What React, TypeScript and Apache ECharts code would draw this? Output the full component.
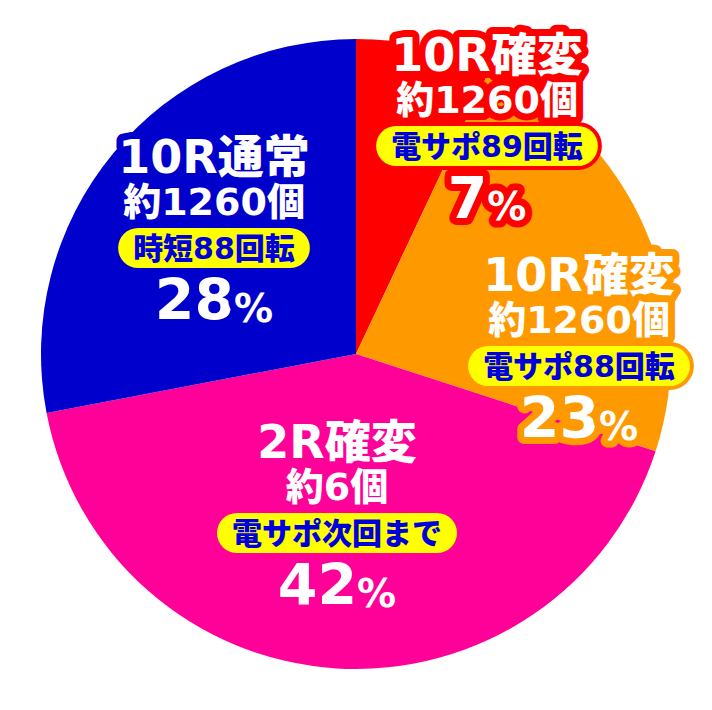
import React, { useEffect, useRef } from 'react';
import * as echarts from 'echarts';

const categories = ['10R確変', '10R確変', '2R確変', '10R通常'];
const values = [7, 23, 42, 28];
const payouts = ['約1260個', '約1260個', '約6個', '約1260個'];
const notes = ['電サポ89回転', '電サポ88回転', '電サポ次回まで', '時短88回転'];
const colors = ['#ff0000', '#ff9900', '#ff0099', '#0000cc'];

// label block centres (px), one per slice
const labelPos = [
  [487, 129],
  [579, 349],
  [337, 516],
  [214, 231]
];

const FONT = '"DejaVu Sans", "Noto Sans CJK JP", sans-serif';

const makeRich = (color: string) => {
  const outline = { color: '#fff', textBorderColor: color, textBorderWidth: 14, fontFamily: FONT, fontWeight: 900 };
  return {
    t: { ...outline, fontSize: 46, lineHeight: 46 },
    s: { ...outline, fontSize: 38, lineHeight: 44 },
    b: {
      color: '#0000dd',
      fontFamily: FONT,
      fontWeight: 900,
      fontSize: 30,
      height: 30,
      lineHeight: 48,
      backgroundColor: '#ffff00',
      borderColor: color,
      borderWidth: 4,
      borderRadius: 22,
      padding: [5, 15],
      textBorderWidth: 0
    },
    p: { ...outline, fontSize: 57, lineHeight: 56 },
    q: { ...outline, fontSize: 39, lineHeight: 56, verticalAlign: 'bottom' }
  };
};

const App: React.FC = () => {
  const chartRef = useRef<HTMLDivElement>(null);

  useEffect(() => {
    if (!chartRef.current) return;
    const chart = echarts.init(chartRef.current, null, { renderer: 'svg' });

    const options: echarts.EChartsOption = {
      animation: false,
      series: [
        {
          type: 'pie',
          center: [356, 354],
          radius: 315,
          startAngle: 90,
          clockwise: true,
          avoidLabelOverlap: false,
          silent: true,
          itemStyle: { borderWidth: 0 },
          labelLine: { show: false },
          data: values.map((v, i) => ({
            name: categories[i],
            value: v,
            itemStyle: { color: colors[i] },
            label: {
              show: true,
              position: 'inside',
              align: 'center',
              formatter: `{t|${categories[i]}}\n{s|${payouts[i]}}\n{b|${notes[i]}}\n{p|${v}}{q|%}`,
              rich: makeRich(colors[i]) as any
            }
          })),
          labelLayout: (params: any) => ({
            x: labelPos[params.dataIndex][0],
            y: labelPos[params.dataIndex][1],
            align: 'center',
            verticalAlign: 'middle'
          })
        }
      ]
    };

    chart.setOption(options);
    return () => {
      chart.dispose();
    };
  }, []);

  return (
    <>
      {/* rounded outline on the label strokes */}
      <style>{'svg text, svg tspan { stroke-linejoin: round; }'}</style>
      <div
        ref={chartRef}
        style={{ position: 'absolute', left: 0, top: 0, width: 712, height: 710, background: '#fff' }}
      />
    </>
  );
};

export default App;
